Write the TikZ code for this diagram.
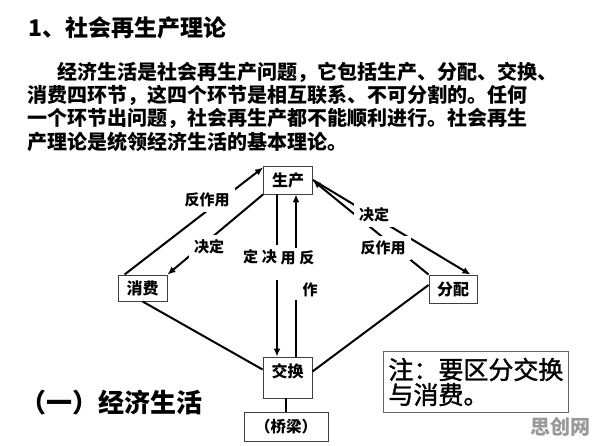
\documentclass[tikz,border=0pt]{standalone}
\usepackage{fontspec}
\setmainfont{Noto Sans CJK SC}
\newfontfamily\notefont[FakeBold=1.4]{Noto Sans CJK SC}
\usetikzlibrary{arrows.meta}

\tikzset{
  box/.style={draw=black!75,line width=0.9pt,inner sep=0pt,font=\fontsize{16pt}{16pt}\selectfont\bfseries},
  lbl/.style={fill=white,inner sep=5pt,font=\fontsize{15pt}{15pt}\selectfont\bfseries},
  txt/.style={inner sep=0pt,font=\fontsize{15pt}{15pt}\selectfont\bfseries},
  arr/.style={line width=2pt,-{Latex[length=8pt,width=7pt]}},
  ln/.style={line width=2pt}
}

\begin{document}
\begin{tikzpicture}[x=1pt,y=-1pt]
\useasboundingbox (0,0) rectangle (596,446);
\node[anchor=west,inner sep=0pt,font=\fontsize{23pt}{23pt}\selectfont\bfseries] (title) at (28,28) {1、社会再生产理论};
\node[anchor=west,inner sep=0pt,align=left,font=\fontsize{20pt}{23.3pt}\selectfont\bfseries] (para) at (27,106.5)
  {\hspace{30pt}经济生活是社会再生产问题，它包括生产、分配、交换、\\
   消费四环节，这四个环节是相互联系、不可分割的。任何\\
   一个环节出问题，社会再生产都不能顺利进行。社会再生\\
   产理论是统领经济生活的基本理论。};

\node[box,minimum width=49pt,minimum height=28pt] (shengchan) at (288,180) {生产};
\node[box,minimum width=49pt,minimum height=26pt] (xiaofei) at (142.5,288) {消费};
\node[box,minimum width=48pt,minimum height=28pt] (fenpei) at (453,289) {分配};
\node[box,minimum width=49pt,text height=16pt,text depth=16pt,inner ysep=4.5pt] (jiaohuan) at (287.5,377.5) {交换};
\node[box,minimum width=84pt,minimum height=29pt,font=\fontsize{15.5pt}{15.5pt}\selectfont\bfseries] (qiaoliang) at (286,426.5) {（桥梁）};

\draw[arr] ([xshift=7pt]xiaofei.north west) -- ([yshift=-2pt]shengchan.north west);
\draw[arr] (shengchan.south west) -- (xiaofei.north east);
\draw[arr] (shengchan.east) -- ([xshift=-7pt]fenpei.north east);
\draw[arr] (fenpei.north west) -- ([yshift=14pt]shengchan.south east);
\node[lbl] (fzy1) at (207,200) {反作用};
\node[lbl] (jd1) at (209,247) {决定};
\node[lbl] (jd2) at (374,215) {决定};
\node[lbl] (fzy2) at (383,248) {反作用};

\coordinate (jdtop) at (277,245);
\coordinate (jdbot) at (277,280);
\coordinate (fztop) at (296,248);
\coordinate (fzbot) at (296,300);
\draw[ln] (shengchan.south -| jdtop) -- (jdtop);
\draw[arr] (jdbot) -- (jiaohuan.north -| jdbot);
\draw[ln] (jiaohuan.north -| fzbot) -- (fzbot);
\draw[arr] (fztop) -- (shengchan.south -| fztop);
\node[txt] (jd3) at (260,257) {定\hspace{4pt}决};
\node[txt] (fzy3) at (297.5,258) {用\hspace{4pt}反};
\node[txt] (fzy4) at (310,290) {作};

\draw[ln] (xiaofei.south) -- ([yshift=8pt]jiaohuan.west);
\draw[ln] ([yshift=4pt]fenpei.west) -- ([yshift=6pt]jiaohuan.east);
\draw[line width=1.2pt] (jiaohuan.south -| qiaoliang.north) -- (qiaoliang.north);

\node[draw=black!60,line width=0.9pt,align=left,anchor=north west,inner xsep=5pt,inner ysep=5.5pt,minimum width=184pt,minimum height=61pt,font=\notefont\fontsize{25pt}{25pt}\selectfont] (zhu) at (383,351) {注：要区分交换\\与消费。};
\node[anchor=west,inner sep=0pt,font=\fontsize{26pt}{26pt}\selectfont\bfseries] (jjsh) at (20,403) {（一）经济生活};
\node[inner sep=0pt,text=black!40,font=\fontsize{20pt}{20pt}\selectfont\bfseries] (sc) at (560,427) {思创网};
\end{tikzpicture}
\end{document}
